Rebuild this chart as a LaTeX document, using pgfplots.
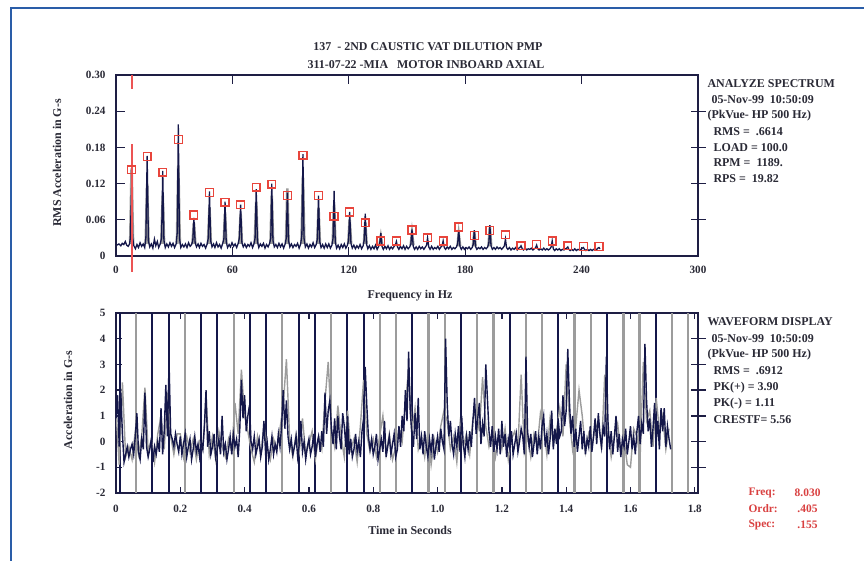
\documentclass[border=0pt]{standalone}
\usepackage{fontspec}
\setmainfont{Liberation Serif}
\usepackage{pgfplots}
\pgfplotsset{compat=1.18}
\definecolor{navy}{HTML}{14174A}
\definecolor{cgray}{HTML}{9C9C9C}
\definecolor{mred}{HTML}{E8453C}
\definecolor{cursr}{RGB}{236,84,84}
\definecolor{framec}{HTML}{2A5DA8}
\definecolor{txt}{HTML}{2A2A36}
\definecolor{axisc}{HTML}{1E1E44}
\definecolor{rtxt}{HTML}{D94040}

\pgfplotsset{
  panel/.style={
    anchor=south west, scale only axis, width=582bp,
    axis line style={axisc, line width=1.3bp},
    tick style={axisc, line width=1.3bp},
    tick align=inside, major tick length=9bp,
    ytick pos=left, xtick pos=both, xticklabel pos=lower,
    every tick label/.append style={font=\fontsize{11.2}{13}\selectfont\bfseries, text=txt},
    yticklabel style={xshift=-7bp},
  },
  rightticks/.style={
    anchor=south west, scale only axis, width=582bp,
    axis y line*=right, axis x line=none,
    yticklabels={}, tick align=center, major tick length=15bp,
    axis line style={axisc, line width=1.3bp},
    tick style={axisc, line width=1.3bp},
  },
}
\newcommand{\lbl}{\fontsize{12}{14}\selectfont\bfseries\color{txt}}
\newcommand{\rlbl}{\fontsize{11.5}{13}\selectfont\bfseries}

\begin{document}
\begin{tikzpicture}
\useasboundingbox (0,0) rectangle (864bp,561bp);
\fill[white] (0,0) rectangle (864bp,561bp);
\draw[framec, line width=1.3bp] (11bp,0) -- (11bp,553bp) -- (864bp,553bp);

% ---------- spectrum ----------
\begin{axis}[panel, at={(116bp,305bp)}, height=181bp,
  xmin=0, xmax=300, ymin=0, ymax=0.30, clip=false,
  xtick={0,60,120,180,240,300}, xticklabels={0,60,120,180,240,300},
  ytick={0,0.06,0.12,0.18,0.24,0.30}, yticklabels={0,0.06,0.12,0.18,0.24,0.30},
  xticklabel style={yshift=-7bp},
]
% gray halo behind the harmonics
\addplot[cgray, line width=2.6bp, unbounded coords=jump] coordinates {
(7.3,0.02)(8.03,0.145)(8.8,0.02)(8.8,nan)
(15.3,0.02)(16.06,0.12)(16.8,0.02)(16.8,nan)
(23.3,0.02)(24.09,0.10)(24.8,0.02)(24.8,nan)
(31.4,0.02)(32.12,0.15)(32.9,0.02)(32.9,nan)
(39.4,0.02)(40.15,0.055)(40.9,0.02)(40.9,nan)
(47.4,0.02)(48.18,0.08)(48.9,0.02)(48.9,nan)
(55.5,0.02)(56.21,0.07)(56.9,0.02)(56.9,nan)
(63.5,0.02)(64.24,0.07)(64.9,0.02)(64.9,nan)
(71.5,0.02)(72.27,0.09)(73.0,0.02)(73.0,nan)
(79.6,0.02)(80.3,0.10)(81.0,0.02)(81.0,nan)
(87.6,0.02)(88.33,0.112)(89.0,0.02)(89.0,nan)
(95.6,0.02)(96.36,0.13)(97.1,0.02)(97.1,nan)
(103.7,0.02)(104.39,0.08)(105.1,0.02)(105.1,nan)
(111.7,0.02)(112.42,0.085)(113.1,0.02)(113.1,nan)
(119.7,0.02)(120.45,0.06)(121.2,0.02)(121.2,nan)
(127.8,0.02)(128.48,0.055)(129.2,0.02)(129.2,nan)
(135.8,0.018)(136.51,0.032)(137.2,0.018)(137.2,nan)
(151.9,0.018)(152.57,0.038)(153.3,0.018)(153.3,nan)
(176.0,0.016)(176.66,0.036)(177.4,0.016)(177.4,nan)
(184.0,0.016)(184.69,0.04)(185.4,0.016)(185.4,nan)
(192.0,0.016)(192.72,0.048)(193.4,0.016)
};
% spectrum trace
\addplot[navy, line width=1.3bp] coordinates {
(0.5,0.018)(1.5,0.020)(2.5,0.017)(3.2,0.021)(4,0.019)(4.8,0.024)(5.5,0.018)(6.3,0.016)(7.0,0.02)(7.4,0.03)
(8.03,0.113)(8.6,0.03)(9.2,0.017)(10,0.012)(10.8,0.019)(11.6,0.014)(12.4,0.022)(13.2,0.016)(14,0.02)(14.8,0.014)(15.4,0.03)
(16.06,0.166)(16.7,0.025)(17.4,0.015)(18.2,0.02)(19,0.013)(19.8,0.028)(20.5,0.017)(21.3,0.024)(22,0.014)(22.8,0.02)(23.5,0.03)
(24.09,0.141)(24.7,0.026)(25.4,0.014)(26.2,0.02)(27,0.015)(27.8,0.022)(28.6,0.016)(29.4,0.021)(30.2,0.014)(31,0.02)(31.6,0.04)
(32.12,0.218)(32.7,0.03)(33.4,0.014)(34.2,0.019)(35,0.015)(35.8,0.02)(36.6,0.014)(37.4,0.022)(38.2,0.016)(39,0.019)(39.6,0.026)
(40.15,0.063)(40.8,0.022)(41.5,0.015)(42.3,0.02)(43,0.014)(43.8,0.021)(44.6,0.016)(45.4,0.019)(46.2,0.013)(47,0.02)(47.6,0.03)
(48.18,0.107)(48.8,0.025)(49.5,0.015)(50.3,0.02)(51,0.014)(51.8,0.022)(52.6,0.015)(53.4,0.019)(54.2,0.013)(55,0.021)(55.6,0.028)
(56.21,0.09)(56.8,0.024)(57.5,0.014)(58.3,0.019)(59,0.015)(59.8,0.022)(60.6,0.016)(61.4,0.02)(62.2,0.014)(63,0.021)(63.6,0.03)
(64.24,0.085)(64.9,0.022)(65.6,0.015)(66.4,0.02)(67.2,0.014)(68,0.019)(68.8,0.016)(69.6,0.022)(70.4,0.014)(71.1,0.02)(71.7,0.03)
(72.27,0.111)(72.9,0.024)(73.6,0.014)(74.4,0.02)(75.2,0.016)(76,0.021)(76.8,0.013)(77.6,0.019)(78.4,0.015)(79.2,0.021)(79.8,0.03)
(80.3,0.12)(80.9,0.026)(81.6,0.015)(82.4,0.019)(83.2,0.014)(84,0.021)(84.8,0.015)(85.6,0.02)(86.4,0.013)(87.2,0.02)(87.8,0.03)
(88.33,0.105)(88.9,0.026)(89.6,0.015)(90.4,0.02)(91.2,0.014)(92,0.019)(92.8,0.016)(93.6,0.021)(94.4,0.013)(95.2,0.02)(95.8,0.035)
(96.36,0.169)(96.9,0.03)(97.6,0.015)(98.4,0.02)(99.2,0.013)(100,0.019)(100.8,0.015)(101.6,0.022)(102.4,0.014)(103.2,0.019)(103.8,0.028)
(104.39,0.1)(105,0.024)(105.7,0.014)(106.5,0.019)(107.3,0.013)(108.1,0.02)(108.9,0.014)(109.7,0.02)(110.5,0.013)(111.3,0.018)(111.9,0.03)
(112.42,0.108)(113,0.024)(113.7,0.013)(114.5,0.018)(115.3,0.012)(116.1,0.019)(116.9,0.014)(117.7,0.02)(118.5,0.013)(119.3,0.018)(119.9,0.026)
(120.45,0.073)(121.1,0.021)(121.8,0.013)(122.6,0.018)(123.4,0.012)(124.2,0.017)(125,0.013)(125.8,0.019)(126.6,0.012)(127.4,0.017)(127.9,0.026)
(128.48,0.07)(129.1,0.02)(129.8,0.012)(130.6,0.017)(131.4,0.011)(132.2,0.016)(133,0.012)(133.8,0.018)(134.6,0.011)(135.4,0.016)(135.9,0.02)
(136.51,0.038)(137.1,0.016)(137.8,0.011)(138.6,0.016)(139.4,0.012)(140.2,0.017)(141,0.011)(141.8,0.015)(142.6,0.012)(143.4,0.016)(144,0.018)
(144.54,0.024)(145.1,0.015)(145.8,0.011)(146.6,0.016)(147.4,0.012)(148.2,0.017)(149,0.011)(149.8,0.016)(150.6,0.012)(151.4,0.015)(152,0.02)
(152.57,0.044)(153.2,0.016)(153.9,0.011)(154.7,0.015)(155.5,0.011)(156.3,0.016)(157.1,0.012)(157.9,0.015)(158.7,0.011)(159.5,0.015)(160.1,0.018)
(160.6,0.03)(161.2,0.015)(161.9,0.011)(162.7,0.016)(163.5,0.011)(164.3,0.014)(165.1,0.012)(165.9,0.016)(166.7,0.011)(167.5,0.015)(168.1,0.017)
(168.63,0.025)(169.2,0.014)(169.9,0.011)(170.7,0.015)(171.5,0.012)(172.3,0.016)(173.1,0.011)(173.9,0.014)(174.7,0.012)(175.5,0.015)(176.1,0.02)
(176.66,0.043)(177.3,0.016)(178,0.011)(178.8,0.015)(179.6,0.011)(180.4,0.014)(181.2,0.012)(182,0.015)(182.8,0.011)(183.6,0.014)(184.2,0.02)
(184.69,0.043)(185.3,0.016)(186,0.011)(186.8,0.014)(187.6,0.012)(188.4,0.015)(189.2,0.011)(190,0.014)(190.8,0.012)(191.6,0.015)(192.2,0.022)
(192.72,0.051)(193.3,0.017)(194,0.011)(194.8,0.014)(195.6,0.011)(196.4,0.015)(197.2,0.012)(198,0.014)(198.8,0.011)(199.6,0.014)(200.2,0.017)
(200.75,0.028)(201.3,0.014)(202,0.011)(202.8,0.014)(203.6,0.01)(204.4,0.013)(205.2,0.011)(206,0.014)(206.8,0.01)(207.6,0.013)(208.2,0.014)
(208.78,0.017)(209.4,0.012)(210.1,0.01)(210.9,0.013)(211.7,0.01)(212.5,0.012)(213.3,0.011)(214.1,0.013)(214.9,0.01)(215.7,0.012)(216.3,0.014)
(216.81,0.018)(217.4,0.012)(218.1,0.01)(218.9,0.012)(219.7,0.01)(220.5,0.013)(221.3,0.01)(222.1,0.012)(222.9,0.01)(223.7,0.012)(224.3,0.015)
(224.84,0.025)(225.4,0.012)(226.1,0.009)(226.9,0.012)(227.7,0.01)(228.5,0.012)(229.3,0.009)(230.1,0.011)(230.9,0.01)(231.7,0.012)(232.3,0.013)
(232.87,0.015)(233.4,0.011)(234.1,0.009)(234.9,0.011)(235.7,0.009)(236.5,0.012)(237.3,0.009)(238.1,0.011)(238.9,0.01)(239.7,0.011)(240.3,0.013)
(240.9,0.014)(241.5,0.011)(242.2,0.009)(243,0.011)(243.8,0.009)(244.6,0.011)(245.4,0.009)(246.2,0.011)(247,0.01)(247.8,0.011)(248.4,0.013)
(248.93,0.014)(249.5,0.012)
};
% harmonic markers
\addplot[only marks, mark=square, mark size=3.9bp, mred, line width=1.4bp] coordinates {
(8.03,0.143)(16.06,0.165)(24.09,0.139)(32.12,0.193)(40.15,0.068)(48.18,0.105)
(56.21,0.089)(64.24,0.085)(72.27,0.114)(80.3,0.119)(88.33,0.100)(96.36,0.167)
(104.39,0.100)(112.42,0.066)(120.45,0.073)(128.48,0.055)(136.51,0.025)(144.54,0.025)
(152.57,0.043)(160.6,0.030)(168.63,0.025)(176.66,0.048)(184.69,0.034)(192.72,0.042)
(200.75,0.035)(208.78,0.017)(216.81,0.019)(224.84,0.025)(232.87,0.017)(240.9,0.016)
(248.93,0.016)
};
% cursor
\addplot[draw=cursr, line width=2bp, unbounded coords=jump] coordinates {
(8.03,0.30)(8.03,0.276)(8.03,nan)(8.03,0.185)(8.03,-0.026)
};
\end{axis}
\begin{axis}[rightticks, at={(116bp,305bp)}, height=181bp,
  xmin=0, xmax=300, ymin=0, ymax=0.30, ytick={0.06,0.12,0.18,0.24}]
\end{axis}

% ---------- waveform ----------
\begin{axis}[panel, at={(116bp,68bp)}, height=180bp,
  xmin=0, xmax=1.81, ymin=-2, ymax=5,
  xtick={0,0.2,0.4,0.6,0.8,1.0,1.2,1.4,1.6,1.8},
  xticklabels={0,0.2,0.4,0.6,0.8,1.0,1.2,1.4,1.6,1.8},
  ytick={-2,-1,0,1,2,3,4,5}, yticklabels={-2,-1,0,1,2,3,4,5},
  xticklabel style={yshift=-9bp},
  major tick length=6bp,
]
% cursor lines at running speed
\addplot[cgray, line width=2.2bp, unbounded coords=jump] coordinates {
(0.063,-2)(0.063,5)(0.063,nan)(0.214,-2)(0.214,5)(0.214,nan)(0.366,-2)(0.366,5)(0.366,nan)
(0.517,-2)(0.517,5)(0.517,nan)(0.669,-2)(0.669,5)(0.669,nan)(0.820,-2)(0.820,5)(0.820,nan)
(0.871,-2)(0.871,5)(0.871,nan)(0.972,-2)(0.972,5)(0.972,nan)(1.022,-2)(1.022,5)(1.022,nan)
(1.123,-2)(1.123,5)(1.123,nan)(1.174,-2)(1.174,5)(1.174,nan)(1.275,-2)(1.275,5)(1.275,nan)
(1.325,-2)(1.325,5)(1.325,nan)(1.426,-2)(1.426,5)(1.426,nan)(1.477,-2)(1.477,5)(1.477,nan)
(1.578,-2)(1.578,5)(1.578,nan)(1.628,-2)(1.628,5)(1.628,nan)(1.729,-2)(1.729,5)(1.729,nan)
(1.780,-2)(1.780,5)
};
\addplot[navy, line width=2.0bp, unbounded coords=jump] coordinates {
(0.012,-2)(0.012,5)(0.012,nan)(0.113,-2)(0.113,5)(0.113,nan)(0.164,-2)(0.164,5)(0.164,nan)
(0.265,-2)(0.265,5)(0.265,nan)(0.315,-2)(0.315,5)(0.315,nan)(0.416,-2)(0.416,5)(0.416,nan)
(0.467,-2)(0.467,5)(0.467,nan)(0.568,-2)(0.568,5)(0.568,nan)(0.618,-2)(0.618,5)(0.618,nan)
(0.719,-2)(0.719,5)(0.719,nan)(0.770,-2)(0.770,5)(0.770,nan)(0.921,-2)(0.921,5)(0.921,nan)
(1.073,-2)(1.073,5)(1.073,nan)(1.224,-2)(1.224,5)(1.224,nan)(1.376,-2)(1.376,5)(1.376,nan)
(1.527,-2)(1.527,5)(1.527,nan)(1.679,-2)(1.679,5)
};
% second (gray) trace
\addplot[cgray, line width=1.4bp] coordinates {
(0,1.2)(0.01,-0.9)(0.02,2.3)(0.03,-0.6)(0.04,-0.2)(0.05,-0.7)(0.06,0.4)(0.07,-0.5)(0.08,0.2)(0.09,2.1)
(0.1,-0.4)(0.11,0.1)(0.12,-0.8)(0.13,0.3)(0.14,1.0)(0.15,-0.3)(0.16,1.9)(0.17,0.2)(0.18,-0.5)(0.19,0.3)
(0.2,0.3)(0.21,-0.6)(0.22,0.2)(0.23,-0.4)(0.24,0.1)(0.25,-0.7)(0.26,0)(0.27,-0.3)(0.28,1.7)(0.29,-0.5)
(0.3,0.2)(0.31,-0.7)(0.32,0.4)(0.33,-0.2)(0.34,-0.6)(0.35,0.1)(0.36,-0.4)(0.37,1.5)(0.38,0.3)(0.39,2.8)
(0.4,1.0)(0.41,0.4)(0.42,-0.3)(0.43,-0.8)(0.44,0.2)(0.45,-0.5)(0.46,0.6)(0.47,-0.2)(0.48,-0.7)(0.49,0.1)
(0.5,-0.3)(0.51,0.5)(0.52,1.4)(0.53,3.2)(0.54,0.1)(0.55,-0.6)(0.56,0.3)(0.57,-0.4)(0.58,0.9)(0.59,-0.5)
(0.6,-0.1)(0.61,0.4)(0.62,-0.7)(0.63,0.2)(0.64,-0.3)(0.65,1.6)(0.66,3.1)(0.67,0.5)(0.68,-0.2)(0.69,1.4)
(0.7,0.2)(0.71,-0.6)(0.72,1.2)(0.73,-0.3)(0.74,0.1)(0.75,-0.8)(0.76,0.6)(0.77,2.4)(0.78,0.3)(0.79,-0.4)
(0.8,0.1)(0.81,-0.6)(0.82,0.2)(0.83,1.0)(0.84,-0.5)(0.85,0.3)(0.86,-0.7)(0.87,-0.2)(0.88,0.5)(0.89,0)
(0.9,1.5)(0.91,2.8)(0.92,0.4)(0.93,1.3)(0.94,-0.3)(0.95,0.2)(0.96,-0.6)(0.97,0.4)(0.98,-0.9)(0.99,0.1)
(1.0,-0.4)(1.01,0.6)(1.02,1.2)(1.03,0.8)(1.04,-0.3)(1.05,0.2)(1.06,-0.8)(1.07,0.7)(1.08,-0.2)(1.09,0.3)
(1.1,-0.5)(1.11,0.9)(1.12,1.3)(1.13,0.4)(1.14,2.5)(1.15,0.6)(1.16,-0.2)(1.17,0.3)(1.18,-0.6)(1.19,0.2)
(1.2,-0.3)(1.21,0.5)(1.22,-0.7)(1.23,0.1)(1.24,0.4)(1.25,-0.2)(1.26,2.6)(1.27,-0.4)(1.28,0.2)(1.29,-0.6)
(1.3,0.3)(1.31,-0.2)(1.32,1.1)(1.33,0.5)(1.34,-0.5)(1.35,0.9)(1.36,-0.1)(1.37,0.4)(1.38,1.3)(1.39,0.2)
(1.4,3.0)(1.41,0.9)(1.42,-0.3)(1.43,0.6)(1.44,2.0)(1.45,1.0)(1.46,-0.4)(1.47,0.3)(1.48,-0.2)(1.49,0.5)
(1.5,0.8)(1.51,-0.3)(1.52,2.6)(1.53,0.4)(1.54,-0.6)(1.55,0.2)(1.56,0.7)(1.57,-0.4)(1.58,0.1)(1.59,-0.9)
(1.6,-1.0)(1.61,0.5)(1.62,0.2)(1.63,-0.6)(1.64,3.1)(1.65,0.8)(1.66,1.2)(1.67,-0.2)(1.68,1.7)(1.69,0.4)
(1.7,1.0)(1.71,-0.3)(1.72,0.5)
};
% main waveform trace
\addplot[navy, line width=1.4bp] coordinates {
(0,0.9)(0.005,1.8)(0.01,-0.2)(0.015,1.9)(0.02,0.3)(0.025,-0.8)(0.03,-0.5)(0.035,-0.2)(0.04,-0.6)(0.045,-0.3)
(0.05,-0.1)(0.055,-0.5)(0.06,0.2)(0.065,1.1)(0.07,-0.4)(0.075,-0.7)(0.08,0.1)(0.085,-0.3)(0.09,1.9)(0.095,-0.2)
(0.1,-0.6)(0.105,-0.3)(0.11,0.1)(0.115,-0.8)(0.12,-0.2)(0.125,-0.5)(0.13,0)(0.135,-0.4)(0.14,1.3)(0.145,-0.5)
(0.15,0.4)(0.155,2.2)(0.16,0.2)(0.165,3.1)(0.17,0.3)(0.175,0.1)(0.18,-0.2)(0.185,0.3)(0.19,-0.1)(0.195,-0.4)
(0.2,0.2)(0.205,-0.5)(0.21,-0.1)(0.215,0.3)(0.22,-0.6)(0.225,-0.2)(0.23,0.1)(0.235,-0.7)(0.24,-0.3)(0.245,0.2)
(0.25,-0.4)(0.255,-0.1)(0.26,-0.6)(0.265,0)(0.27,-0.3)(0.275,0.6)(0.28,2.0)(0.285,-0.2)(0.29,0.4)(0.295,-0.5)
(0.3,-0.2)(0.305,0.3)(0.31,-0.6)(0.315,-0.3)(0.32,0.1)(0.325,-0.5)(0.33,1.0)(0.335,-0.4)(0.34,-0.1)(0.345,-0.7)
(0.35,-0.3)(0.355,0.2)(0.36,-0.5)(0.365,0.3)(0.37,-0.2)(0.375,0.1)(0.38,-0.6)(0.385,0.5)(0.39,2.4)(0.395,0.9)
(0.4,1.8)(0.405,0.4)(0.41,1.0)(0.415,1.4)(0.42,0)(0.425,-0.3)(0.43,0.2)(0.435,-0.5)(0.44,-0.2)(0.445,0.1)
(0.45,-0.6)(0.455,-0.2)(0.46,0.8)(0.465,-0.4)(0.47,0)(0.475,-0.7)(0.48,-0.3)(0.485,0.2)(0.49,-0.5)(0.495,-0.1)
(0.5,-0.4)(0.505,0.3)(0.51,-0.2)(0.515,0.6)(0.52,2.0)(0.525,0.5)(0.53,1.6)(0.535,0.2)(0.54,-0.3)(0.545,0.1)
(0.55,-0.5)(0.555,-0.2)(0.56,0.2)(0.565,-0.6)(0.57,-0.1)(0.575,0.8)(0.58,-0.4)(0.585,0)(0.59,-0.7)(0.595,-0.2)
(0.6,0.1)(0.605,-0.5)(0.61,-0.2)(0.615,0.3)(0.62,-0.6)(0.625,-0.1)(0.63,0.2)(0.635,-0.4)(0.64,0.4)(0.645,-0.2)
(0.65,1.9)(0.655,0.3)(0.66,1.2)(0.665,1.6)(0.67,0.5)(0.675,-0.1)(0.68,0.9)(0.685,-0.3)(0.69,1.0)(0.695,0.2)
(0.7,-0.3)(0.705,1.1)(0.71,0.6)(0.715,-0.2)(0.72,1.0)(0.725,-0.5)(0.73,0.1)(0.735,-0.6)(0.74,-0.3)(0.745,0.3)
(0.75,-0.4)(0.755,0)(0.76,-0.6)(0.765,0.4)(0.77,0.9)(0.775,2.9)(0.78,1.4)(0.785,0.2)(0.79,-0.3)(0.795,0.1)
(0.8,-0.5)(0.805,-0.2)(0.81,0.3)(0.815,-0.7)(0.82,-0.3)(0.825,0.1)(0.83,-0.4)(0.835,0.8)(0.84,-0.6)(0.845,-0.2)
(0.85,0.2)(0.855,-0.5)(0.86,-0.1)(0.865,0.3)(0.87,-0.6)(0.875,-0.3)(0.88,0.6)(0.885,-0.2)(0.89,1.0)(0.895,0.4)
(0.9,2.0)(0.905,0.8)(0.91,3.5)(0.915,1.2)(0.92,0.3)(0.925,-0.2)(0.93,1.1)(0.935,0.1)(0.94,1.7)(0.945,-0.3)
(0.95,0.2)(0.955,-0.5)(0.96,0.4)(0.965,-0.2)(0.97,-0.6)(0.975,0.1)(0.98,-0.4)(0.985,0.3)(0.99,-0.7)(0.995,-0.2)
(1.0,0.2)(1.005,-0.4)(1.01,0.5)(1.015,0)(1.02,-0.3)(1.025,4.0)(1.03,1.5)(1.035,0.2)(1.04,0.8)(1.045,-0.1)
(1.05,-0.5)(1.055,0.3)(1.06,-0.2)(1.065,0.6)(1.07,-0.4)(1.075,1.0)(1.08,-0.1)(1.085,-0.6)(1.09,0.2)(1.095,-0.3)
(1.1,0.4)(1.105,-0.2)(1.11,0.8)(1.115,1.7)(1.12,0.3)(1.125,0.9)(1.13,1.5)(1.135,-0.1)(1.14,0.7)(1.145,0.2)
(1.15,3.0)(1.155,1.7)(1.16,0.4)(1.165,-0.2)(1.17,0.6)(1.175,-0.4)(1.18,0.2)(1.185,-0.3)(1.19,0.5)(1.195,-0.5)
(1.2,0.8)(1.205,-0.2)(1.21,0.3)(1.215,-0.6)(1.22,0.1)(1.225,-0.3)(1.23,0.4)(1.235,-0.5)(1.24,-0.1)(1.245,0.3)
(1.25,-0.4)(1.255,0)(1.26,0.5)(1.265,0.2)(1.27,-0.5)(1.275,3.3)(1.28,0.4)(1.285,-0.2)(1.29,0.3)(1.295,-0.6)
(1.3,-0.1)(1.305,0.4)(1.31,-0.5)(1.315,0.2)(1.32,-0.3)(1.325,0.6)(1.33,1.0)(1.335,-0.2)(1.34,0.3)(1.345,-0.5)
(1.35,0.1)(1.355,1.2)(1.36,-0.3)(1.365,0.5)(1.37,-0.1)(1.375,0.9)(1.38,0.2)(1.385,0.4)(1.39,1.8)(1.395,0.6)
(1.4,1.2)(1.405,3.6)(1.41,1.6)(1.415,0.3)(1.42,1.0)(1.425,-0.2)(1.43,0.5)(1.435,-0.4)(1.44,0.2)(1.445,0.8)
(1.45,-0.3)(1.455,0.4)(1.46,-0.5)(1.465,0.1)(1.47,-0.2)(1.475,0.6)(1.48,-0.4)(1.485,0.2)(1.49,0.9)(1.495,-0.1)
(1.5,1.1)(1.505,0.3)(1.51,-0.2)(1.515,0.6)(1.52,0.2)(1.525,3.3)(1.53,0.8)(1.535,-0.3)(1.54,0.4)(1.545,-0.5)
(1.55,0.2)(1.555,1.0)(1.56,-0.4)(1.565,0.3)(1.57,-0.6)(1.575,0.1)(1.58,-0.2)(1.585,0.5)(1.59,-0.5)(1.595,0)
(1.6,0.6)(1.605,-0.3)(1.61,0.2)(1.615,-0.5)(1.62,0.4)(1.625,1.0)(1.63,-0.1)(1.635,0.7)(1.64,0.3)(1.645,3.8)
(1.65,1.6)(1.655,0.4)(1.66,0.9)(1.665,-0.2)(1.67,0.5)(1.675,1.5)(1.68,0)(1.685,0.8)(1.69,-0.3)(1.695,1.3)
(1.7,0.4)(1.705,1.3)(1.71,-0.2)(1.715,0.6)(1.72,0.1)(1.725,-0.3)
};
\end{axis}
\begin{axis}[rightticks, at={(116bp,68bp)}, height=180bp,
  xmin=0, xmax=1.81, ymin=-2, ymax=5, ytick={-1,0,1,2,3,4}]
\end{axis}

% ---------- text ----------
\node[font=\lbl] at (428bp,514bp) {137\ \ - 2ND CAUSTIC VAT DILUTION PMP};
\node[font=\lbl] at (426bp,496bp) {311-07-22 -MIA\ \ \ MOTOR INBOARD AXIAL};
\node[font=\lbl, rotate=90] at (57bp,398bp) {RMS Acceleration in G-s};
\node[font=\lbl] at (410bp,265bp) {Frequency in Hz};
\node[font=\lbl, rotate=90] at (68bp,161bp) {Acceleration in G-s};
\node[font=\lbl] at (410bp,31bp) {Time in Seconds};

\node[font=\lbl, anchor=west] at (704bp,477bp) {ANALYZE SPECTRUM};
\node[font=\lbl, anchor=west] at (708bp,461bp) {05-Nov-99\ \ 10:50:09};
\node[font=\lbl, anchor=west] at (704bp,445bp) {(PkVue- HP 500 Hz)};
\node[font=\lbl, anchor=west] at (710bp,429bp) {RMS =\ \ .6614};
\node[font=\lbl, anchor=west] at (710bp,413bp) {LOAD = 100.0};
\node[font=\lbl, anchor=west] at (710bp,398bp) {RPM =\ \ 1189.};
\node[font=\lbl, anchor=west] at (710bp,382bp) {RPS =\ \ 19.82};

\node[font=\lbl, anchor=west] at (704bp,239bp) {WAVEFORM DISPLAY};
\node[font=\lbl, anchor=west] at (708bp,222bp) {05-Nov-99\ \ 10:50:09};
\node[font=\lbl, anchor=west] at (704bp,206bp) {(PkVue- HP 500 Hz)};
\node[font=\lbl, anchor=west] at (710bp,190bp) {RMS =\ \ .6912};
\node[font=\lbl, anchor=west] at (710bp,173bp) {PK(+) = 3.90};
\node[font=\lbl, anchor=west] at (710bp,157bp) {PK(-) = 1.11};
\node[font=\lbl, anchor=west] at (710bp,141bp) {CRESTF= 5.56};

\node[font=\rlbl, text=rtxt, anchor=west] at (745bp,68bp) {Freq:};
\node[font=\rlbl, text=rtxt, anchor=east] at (824bp,68bp) {8.030};
\node[font=\rlbl, text=rtxt, anchor=west] at (745bp,52bp) {Ordr:};
\node[font=\rlbl, text=rtxt, anchor=east] at (821bp,52bp) {.405};
\node[font=\rlbl, text=rtxt, anchor=west] at (745bp,36bp) {Spec:};
\node[font=\rlbl, text=rtxt, anchor=east] at (821bp,36bp) {.155};
\end{tikzpicture}
\end{document}
